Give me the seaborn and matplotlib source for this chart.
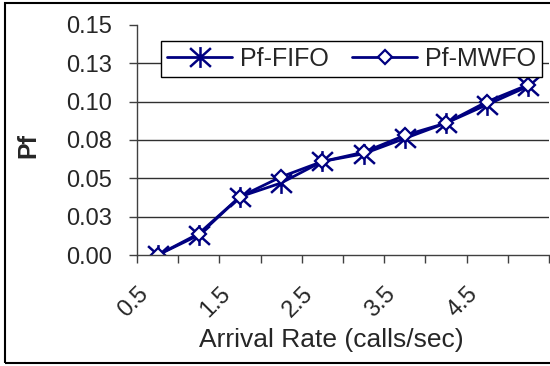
import numpy as np
import pandas as pd
import matplotlib
matplotlib.use("Agg")
import matplotlib.pyplot as plt
from matplotlib.path import Path
from matplotlib.patches import Rectangle
from matplotlib.transforms import ScaledTranslation
from matplotlib.ticker import FixedLocator, FuncFormatter
import seaborn as sns

# ---- data ----
rates = ["0.5", "1", "1.5", "2", "2.5", "3", "3.5", "4", "4.5", "5"]
pf_fifo = [0.000, 0.013, 0.038, 0.047, 0.061, 0.066, 0.076, 0.086, 0.098, 0.110]
pf_mwfo = [0.000, 0.014, 0.038, 0.051, 0.061, 0.067, 0.078, 0.086, 0.100, 0.111]
y_ticks = [0.0, 0.025, 0.05, 0.075, 0.1, 0.125, 0.15]

sns.set_theme(style="white")
plt.rcParams["font.family"] = ["Liberation Sans", "DejaVu Sans"]

NAVY = "#000080"

# asterisk marker: an X crossed by a vertical bar
star = Path(
    [(-1, -0.9), (1, 0.9), (-1, 0.9), (1, -0.9), (0, -1.0), (0, 1.0)],
    [Path.MOVETO, Path.LINETO, Path.MOVETO, Path.LINETO, Path.MOVETO, Path.LINETO],
)

df_fifo = pd.DataFrame({"rate": rates, "pf": pf_fifo})
df_mwfo = pd.DataFrame({"rate": rates, "pf": pf_mwfo})

fig = plt.figure(figsize=(5.5, 3.66), dpi=100)
ax = fig.add_axes([0.249, 0.303, 0.749, 0.629])

sns.lineplot(data=df_fifo, x="rate", y="pf", ax=ax, color=NAVY, lw=2.0,
             marker=star, ms=15, mec=NAVY, mew=1.8, label="Pf-FIFO", sort=False)
sns.lineplot(data=df_mwfo, x="rate", y="pf", ax=ax, color=NAVY, lw=2.0,
             marker="D", ms=7.5, mfc="white", mec=NAVY, mew=1.6, label="Pf-MWFO",
             sort=False)

# axes limits and grid
ax.set_xlim(-0.5, len(rates) - 0.5)
ax.set_ylim(0, 0.15)
for v in y_ticks[1:-1]:
    ax.axhline(v, color="#303030", lw=1.0, zorder=0)

# y axis
ax.yaxis.set_major_locator(FixedLocator(y_ticks))
ax.yaxis.set_major_formatter(FuncFormatter(lambda v, p: f"{v + 1e-9:.2f}"))
ax.tick_params(axis="y", which="major", direction="out", length=6, width=1,
               color="#404040", pad=12, labelsize=17, left=True)

# x axis: tick marks between categories, every other category labelled
ax.xaxis.set_minor_locator(FixedLocator(np.arange(-0.5, len(rates), 1.0)))
ax.xaxis.set_major_locator(FixedLocator(list(range(0, len(rates), 2))))
ax.set_xticklabels([rates[i] for i in range(0, len(rates), 2)])
ax.tick_params(axis="x", which="minor", direction="out", length=6, width=1,
               color="#404040", bottom=True)
ax.tick_params(axis="x", which="major", length=0, pad=20, labelsize=17)
shift = ScaledTranslation(-5 / 100, 0, fig.dpi_scale_trans)
for lab in ax.get_xticklabels():
    lab.set_rotation(45)
    lab.set_ha("right")
    lab.set_va("top")
    lab.set_transform(lab.get_transform() + shift)

for s in ["top", "right"]:
    ax.spines[s].set_visible(False)
for s in ["left", "bottom"]:
    ax.spines[s].set_color("#404040")
    ax.spines[s].set_linewidth(1.0)

ax.set_xlabel("Arrival Rate (calls/sec)", fontsize=19)
ax.xaxis.set_label_coords(0.471, -0.318)
ax.set_ylabel("Pf", fontsize=18, fontweight="bold")
ax.yaxis.set_label_coords(-0.235, 0.478)

leg = ax.legend(ncol=2, loc="center", bbox_to_anchor=(0.058, 0.757, 0.925, 0.191),
                mode="expand", fontsize=18, frameon=True, fancybox=False,
                handlelength=2.6, handletextpad=0.3, columnspacing=0.5,
                borderpad=0.25, borderaxespad=0)
leg.get_frame().set_edgecolor("black")
leg.get_frame().set_linewidth(1.0)
leg.get_frame().set_alpha(1)

# chart border
fig.patches.append(Rectangle((5 / 550, 3 / 366), 1.0, 360 / 366,
                             transform=fig.transFigure, fill=False,
                             edgecolor="black", lw=1.5))

fig.savefig("out.png", dpi=100)
